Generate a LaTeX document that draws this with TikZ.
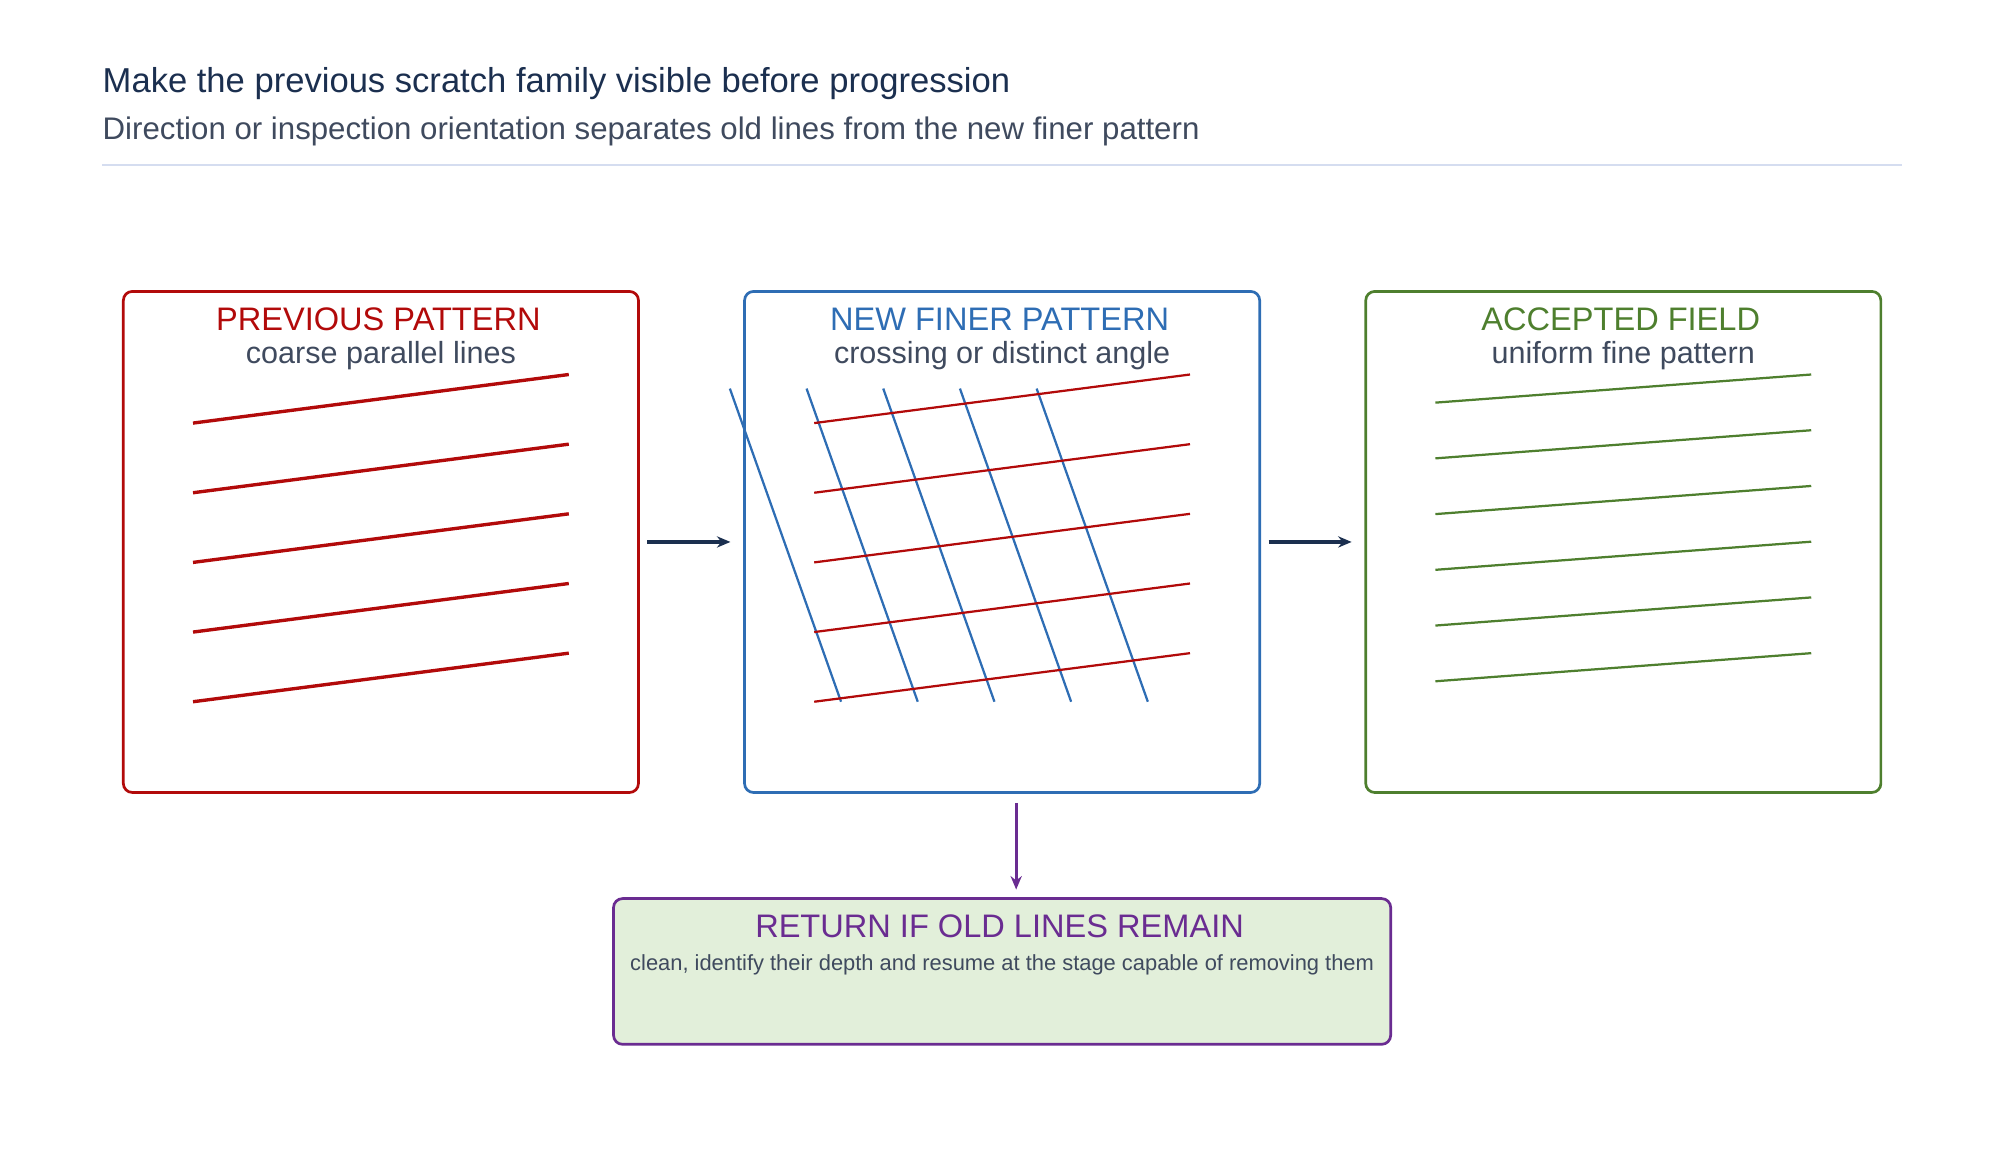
\documentclass[tikz,border=0pt]{standalone}
\usepackage{fontspec}
\setmainfont{Liberation Sans}
\usetikzlibrary{arrows.meta}
\definecolor{cred}{HTML}{B20A0A}
\definecolor{cblue}{HTML}{2E6DB4}
\definecolor{cgreen}{HTML}{4E7F2E}
\definecolor{cpurple}{HTML}{6A2C91}
\definecolor{cnavy}{HTML}{1B2F4F}
\definecolor{cgrey}{HTML}{3F4A5E}
\definecolor{crule}{HTML}{D5DDF0}
\definecolor{cfill}{HTML}{E2EFDA}
\begin{document}
\begin{tikzpicture}[x=0.2mm, y=-0.2mm,
    panel/.style={draw, line width=1.2pt, rounded corners=4pt, minimum width=80.6mm, minimum height=78.4mm, inner sep=0pt},
    head/.style={font=\fontsize{14.5}{16}\selectfont},
    sub/.style={text=cgrey, font=\fontsize{13.6}{15}\selectfont},
    flow/.style={-{Stealth[length=6pt, width=5pt]}, line width=1.6pt, cnavy}]
  \useasboundingbox (0,0) rectangle (1560,908);
  \node[anchor=base west, inner sep=0pt, text=cnavy, font=\fontsize{15.4}{17}\selectfont] (title) at (80,72) {Make the previous scratch family visible before progression};
  \node[anchor=base west, inner sep=0pt, sub, font=\fontsize{13.9}{15}\selectfont] (subtitle) at (80,109) {Direction or inspection orientation separates old lines from the new finer pattern};
  \draw[crule, line width=1pt] (80,129) -- (1488,129);

  \node[panel, cred] (nPrev) at (298,424) {};
  \node[panel, cblue] (nNew) at (784,424) {};
  \node[panel, cgreen] (nAcc) at (1270,424) {};
  \node[head, text=cred] at (296,250) {PREVIOUS PATTERN};
  \node[sub] at (298,278) {coarse parallel lines};
  \node[head, text=cblue] at (782,250) {NEW FINER PATTERN};
  \node[sub] at (784,278) {crossing or distinct angle};
  \node[head, text=cgreen] at (1268,250) {ACCEPTED FIELD};
  \node[sub] at (1270,278) {uniform fine pattern};

  % scratch lines
  \foreach \k in {0,...,4}
    \draw[cred, line width=1.5pt] (151,331+54.5*\k) -- (445,293+54.5*\k);
  \foreach \k in {0,...,4}
    \draw[cblue, line width=1pt] (571+60*\k,304) -- (658+60*\k,549);
  \foreach \k in {0,...,4}
    \draw[cred, line width=1pt] (637,331+54.5*\k) -- (931,293+54.5*\k);
  \foreach \k in {0,...,5}
    \draw[cgreen, line width=1pt] (1123,315+43.6*\k) -- (1417,293+43.6*\k);

  \node[draw=cpurple, fill=cfill, line width=1.2pt, rounded corners=4pt, minimum width=121.6mm, minimum height=22.8mm, inner sep=0pt] (nRet) at (784,760) {};
  \node[head, text=cpurple] at (782,725) {RETURN IF OLD LINES REMAIN};
  \node[text=cgrey, font=\fontsize{9.75}{11}\selectfont] at (784,755) {clean, identify their depth and resume at the stage capable of removing them};

  \draw[flow] ([xshift=1.2mm]nPrev.east) -- ([xshift=-2mm]nNew.west);
  \draw[flow] ([xshift=1.2mm]nNew.east) -- ([xshift=-2mm]nAcc.west);
  \draw[flow, cpurple, line width=1.2pt] ([xshift=2.2mm, yshift=-1.4mm]nNew.south) -- ([xshift=2.2mm, yshift=1.2mm]nRet.north);
\end{tikzpicture}
\end{document}
